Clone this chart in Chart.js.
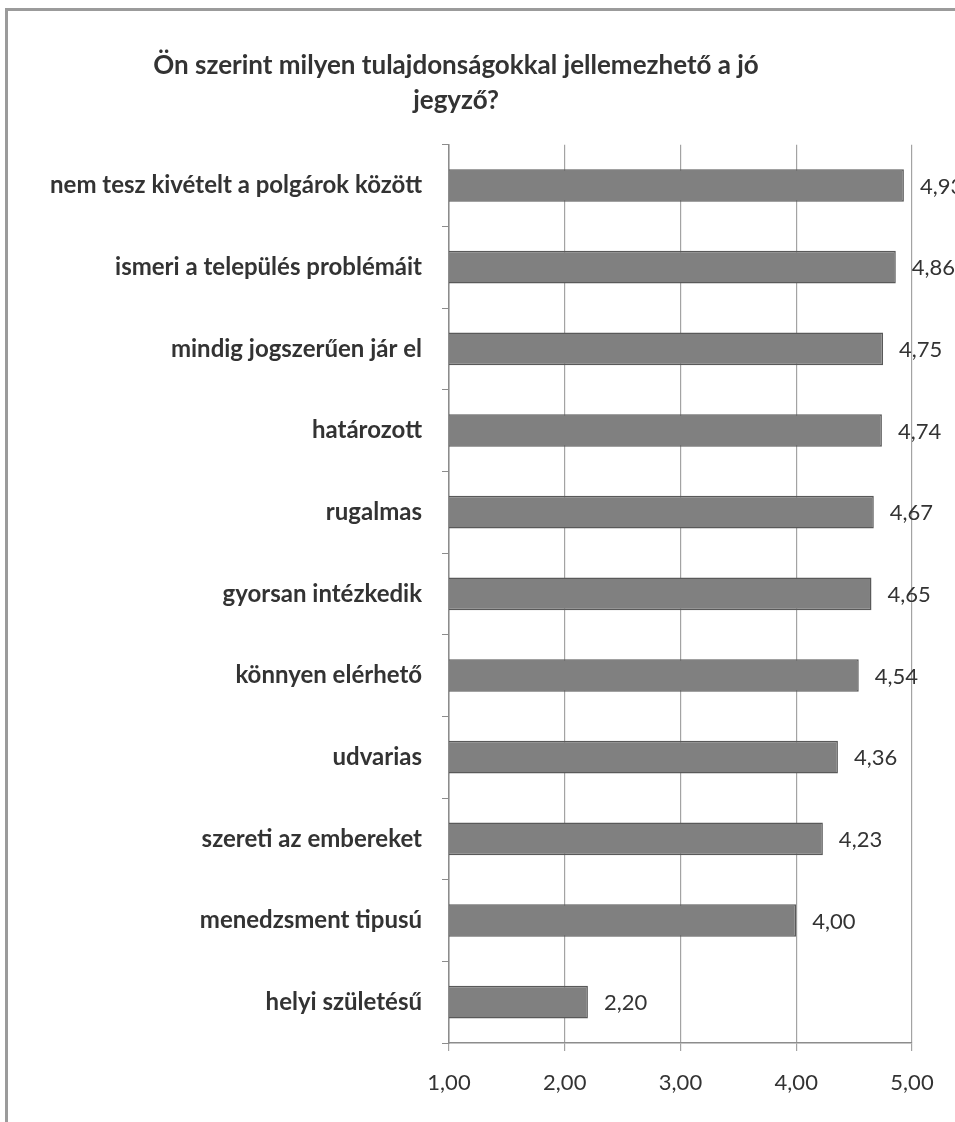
<!DOCTYPE html>
<html lang="hu">
<head>
<meta charset="utf-8">
<title>Jó jegyző</title>
<script src="https://cdn.jsdelivr.net/npm/chart.js@4.4.1/dist/chart.umd.min.js"></script>
<style>
  html, body { margin:0; padding:0; background:#fff; }
  #wrap { position:relative; width:955px; height:1122px; overflow:hidden; }
  #frame { position:absolute; left:5px; top:8px; right:-10px; bottom:-10px;
           border-top:3px solid #9b9b9b; border-left:3px solid #9b9b9b; pointer-events:none; }
  canvas { position:absolute; left:0; top:0; }
</style>
</head>
<body>
<div id="wrap">
  <canvas id="chart" width="955" height="1122"></canvas>
  <div id="frame"></div>
</div>
<script>
// data, top to bottom
const categories = [
  'nem tesz kivételt a polgárok között',
  'ismeri a település problémáit',
  'mindig jogszerűen jár el',
  'határozott',
  'rugalmas',
  'gyorsan intézkedik',
  'könnyen elérhető',
  'udvarias',
  'szereti az embereket',
  'menedzsment tipusú',
  'helyi születésű'
];
const values = [4.93, 4.86, 4.75, 4.74, 4.67, 4.65, 4.54, 4.36, 4.23, 4.00, 2.20];
const titleLines = ['Ön szerint milyen tulajdonságokkal jellemezhető a jó', 'jegyző?'];
const axisMin = 1, axisMax = 5;

const FONT = 'Lato, "Open Sans", sans-serif';
const fmt = v => Number(v).toFixed(2).replace('.', ',');

(function(){
  // value labels right of each bar
  const barLabels = {
    id: 'barLabels',
    afterDatasetsDraw(chart){
      const ctx = chart.ctx;
      const meta = chart.getDatasetMeta(0);
      ctx.save();
      ctx.font = '22px ' + FONT;
      ctx.fillStyle = '#333333';
      ctx.textAlign = 'left';
      ctx.textBaseline = 'middle';
      meta.data.forEach((bar, i)=>{
        ctx.fillText(fmt(values[i]), bar.x + 16, bar.y + 1);
      });
      ctx.restore();
    }
  };

  new Chart(document.getElementById('chart').getContext('2d'), {
    type: 'bar',
    data: {
      labels: categories,
      datasets: [{
        data: values,
        backgroundColor: '#808080',
        borderColor: '#595959',
        borderWidth: 1.5,
        barPercentage: 0.4,
        categoryPercentage: 1.0
      }]
    },
    options: {
      indexAxis: 'y',
      responsive: false,
      animation: false,
      layout: { padding: { left: 0, right: 43, top: 0, bottom: 0 } },
      plugins: {
        legend: { display: false },
        tooltip: { enabled: false },
        title: {
          display: true,
          text: titleLines,
          color: '#333333',
          font: { family: FONT, size: 26, weight: 'bold', lineHeight: 1.34 },
          padding: { top: 48, bottom: 27 }
        }
      },
      scales: {
        x: {
          min: axisMin, max: axisMax,
          afterFit: s => { s.height = 79; },
          ticks: { stepSize: 1, callback: v => fmt(v), color: '#333333', padding: 19,
                   font: { family: FONT, size: 22 } },
          grid: { color: '#a3a3a3', lineWidth: 1.2, tickLength: 8 },
          border: { color: '#8c8c8c', width: 1.5 }
        },
        y: {
          afterFit: s => { s.width = 449; },
          ticks: { color: '#333333', padding: 20, font: { family: FONT, size: 24, weight: 'bold' } },
          grid: { drawOnChartArea: false, offset: true, tickLength: 7, color: '#8c8c8c' },
          border: { color: '#8c8c8c', width: 1.5 }
        }
      }
    },
    plugins: [barLabels]
  });
})();
</script>
</body>
</html>
